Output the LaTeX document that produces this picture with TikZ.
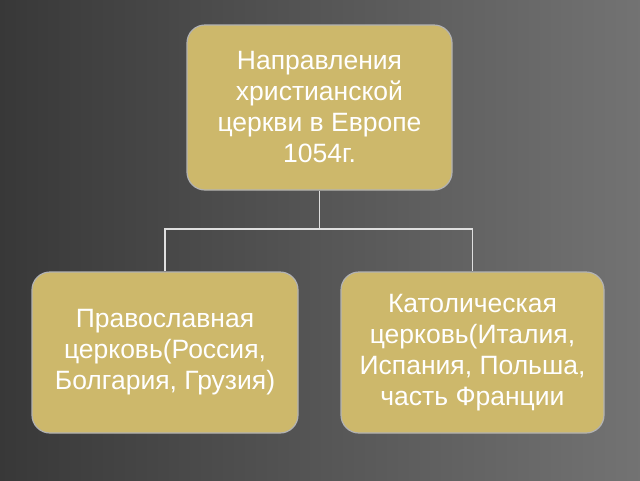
\documentclass[tikz,border=0pt]{standalone}
\usepackage{fontspec}
\setmainfont{Liberation Sans}
\usetikzlibrary{positioning}
\definecolor{boxtan}{HTML}{CDB86B}
\tikzset{
  topic/.style={draw=gray!60,line width=1.2pt,fill=boxtan,rounded corners=18pt,
    text=white,align=center,font=\fontsize{26.5}{31}\selectfont,inner sep=2pt},
  link/.style={draw=gray!25,line width=1.5pt}
}
\begin{document}
\begin{tikzpicture}[x=1pt,y=-1pt]
\shade[left color=black!78,right color=black!55] (0,0) rectangle (640,480);
\useasboundingbox (0,0) rectangle (640,480);
\node[topic,minimum width=265pt,minimum height=165pt] (top) at (319.5,107.5)
  {Направления\\христианской\\церкви в Европе\\1054г.};
\node[topic,minimum width=266pt,minimum height=161pt] (orth) at (165,352.5)
  {Православная\\церковь(Россия,\\Болгария, Грузия)};
\node[topic,minimum width=263pt,minimum height=161pt] (cath) at (472.5,352.5)
  {Католическая\\церковь(Италия,\\Испания, Польша,\\часть Франции};
\coordinate (fork) at (319.5,229);
\draw[link] (top.south) -- (fork);
\draw[link] (orth.north) |- (fork) -| (cath.north);
\end{tikzpicture}
\end{document}
